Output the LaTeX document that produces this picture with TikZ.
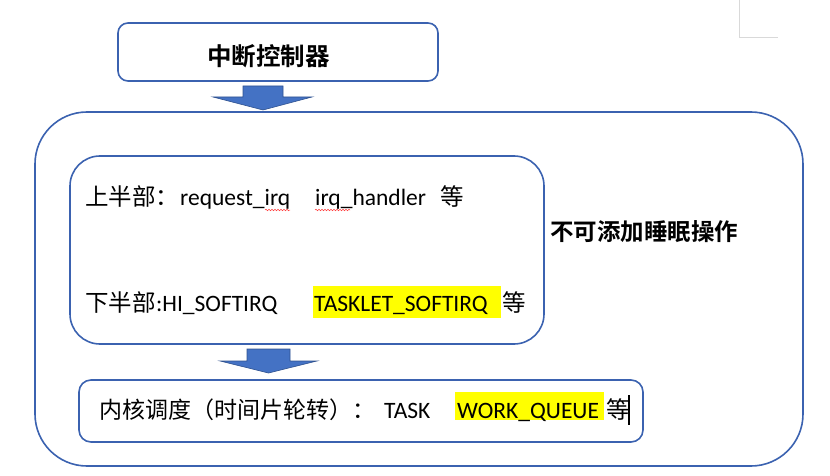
\documentclass[tikz,border=0pt]{standalone}
\usepackage{fontspec}
\setmainfont{Carlito}
\newfontfamily\cjk{Noto Sans CJK SC}[BoldFont={Noto Sans CJK SC Bold}]
\usetikzlibrary{decorations.pathmorphing}
\definecolor{bord}{HTML}{3B62B0}
\definecolor{arrfill}{HTML}{4472C4}
\definecolor{arredge}{HTML}{2F528F}
\definecolor{hl}{HTML}{FFFF00}
\definecolor{corner}{HTML}{D9D9D9}
\begin{document}
\begin{tikzpicture}[x=1pt,y=-1pt,
  box/.style={draw=bord, line width=1.6pt, rounded corners=#1, inner sep=0pt},
  txt/.style={anchor=base west, inner sep=0pt, font=\fontsize{23.5}{28}\selectfont},
  blockarrow/.style={fill=arrfill, draw=arredge, line width=0.6pt},
  squiggle/.style={draw=red!75!white, line width=0.5pt, decorate,
    decoration={snake, amplitude=0.8pt, segment length=3pt}}]
\useasboundingbox (0,0) rectangle (830,476);
% page corner mark
\draw[corner, line width=1pt] (739,0) -- (739,38) -- (778,38);
% boxes
\node[box=10pt, minimum width=320pt, minimum height=58pt] (ctrl) at (278,52) {};
\node[box=52pt, minimum width=768pt, minimum height=354pt] (outer) at (419,289) {};
\node[box=30pt, minimum width=474pt, minimum height=188pt] (inner) at (307,250) {};
\node[box=12pt, minimum width=564pt, minimum height=62pt] (kern) at (361,411) {};
% block arrows
\draw[blockarrow] (243,86) -- (283,86) -- (283,97) -- (312,97) -- (263,110) -- (213,97) -- (243,97) -- cycle;
\draw[blockarrow] (247,349) -- (290,349) -- (290,361) -- (317,361) -- (268.5,373) -- (220,361) -- (247,361) -- cycle;
% title
\node[txt, font=\cjk\bfseries\fontsize{24.5}{28}\selectfont] (title) at (207,66) {中断控制器};
% line 1
\node[txt] (a1) at (85,205) {\cjk 上半部：};
\node[txt] (a2) at (180,205) {request\_irq};
\node[txt] (a3) at (315,205) {irq\_handler};
\node[txt] (a4) at (440,205) {\cjk 等};
\draw[squiggle] (265,210) -- (290,210);
\draw[squiggle] (315,210) -- (350,210);
% line 2
\fill[hl] (313,286) rectangle (501,318);
\node[txt] (b1) at (85,311) {\cjk 下半部};
\node[txt] (b2) at (b1.base east) {:HI\_SOFTIRQ};
\node[txt] (b3) at (314,311) {TASKLET\_SOFTIRQ};
\node[txt] (b4) at (502,311) {\cjk 等};
% side label
\node[txt, font=\cjk\bfseries\fontsize{23.5}{28}\selectfont] (side) at (550,240.5) {不可添加睡眠操作};
% bottom line
\fill[hl] (455,392) rectangle (604,420);
\node[txt, font=\fontsize{23}{28}\selectfont] (c1) at (99,418) {\cjk 内核调度（时间片轮转）：};
\node[txt] (c2) at (384,418) {TASK};
\node[txt] (c3) at (457,418) {WORK\_QUEUE};
\node[txt] (c4) at (606,418) {\cjk 等};
\draw[line width=1.2pt] (629,395) -- (629,425);
\end{tikzpicture}
\end{document}
